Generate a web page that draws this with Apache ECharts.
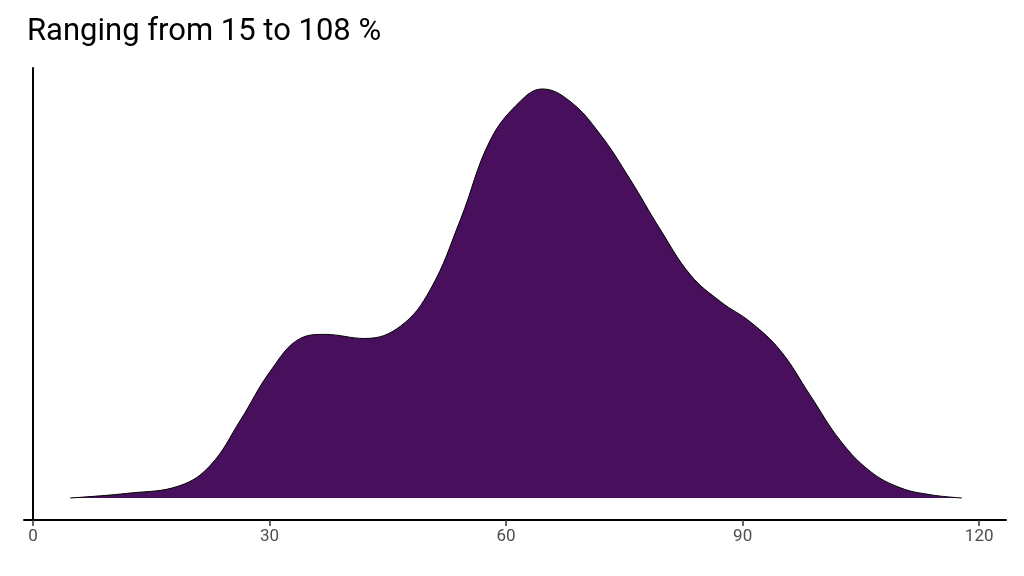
<!DOCTYPE html>
<html>
<head>
<meta charset="utf-8">
<script src="https://cdn.jsdelivr.net/npm/echarts@6/dist/echarts.min.js"></script>
<style>html,body{margin:0;padding:0;background:#fff}#chart{width:1024px;height:576px}</style>
</head>
<body>
<div id="chart"></div>
<script>
// density curve (x = percent, y = relative density)
var xValues = [4.7, 12.3, 18.6, 22.5, 26.3, 30.1, 33.9, 37, 42.1, 46.6, 50.4, 54.2, 58, 61.8, 64.6, 68.1, 71.9, 75.7, 79.6, 83.4, 87.2, 91, 94.8, 98.6, 102.4, 106.2, 110, 113.8, 117.8];
var yValues = [0, 0.012, 0.03, 0.08, 0.19, 0.31, 0.39, 0.40, 0.39, 0.42, 0.51, 0.68, 0.875, 0.97, 1.0, 0.97, 0.89, 0.78, 0.655, 0.545, 0.48, 0.43, 0.36, 0.25, 0.14, 0.065, 0.025, 0.008, 0];
var tickValues = [0, 30, 60, 90, 120];
var titleText = 'Ranging from 15 to 108 %';

var points = [];
for (var i = 0; i < xValues.length; i++) {
  points.push([xValues[i], yValues[i]]);
}

var chart = echarts.init(document.getElementById('chart'));
chart.setOption({
  animation: false,
  title: {
    text: titleText,
    left: 22,
    top: 12,
    textStyle: { fontFamily: 'Roboto', fontSize: 31, fontWeight: 'normal', color: '#000' }
  },
  grid: { left: 24, right: 18, top: 68, bottom: 56 },
  xAxis: {
    type: 'value',
    min: -1.14,
    max: 123.4,
    splitLine: { show: false },
    axisLine: { onZero: false, lineStyle: { color: '#000', width: 2 } },
    axisTick: { customValues: tickValues, length: 6, lineStyle: { color: '#333', width: 1.5 } },
    axisLabel: { customValues: tickValues, color: '#4d4d4d', fontSize: 17, fontFamily: 'Roboto', margin: 8 }
  },
  yAxis: {
    type: 'value',
    min: -0.0538,
    max: 1.0513,
    splitLine: { show: false },
    axisLine: { show: true, lineStyle: { color: '#000', width: 2 } },
    axisTick: { show: false },
    axisLabel: { show: false }
  },
  series: [{
    type: 'line',
    data: points,
    smooth: 0.4,
    symbol: 'none',
    lineStyle: { color: '#000', width: 1 },
    areaStyle: { color: '#480f5c', opacity: 1, origin: 0 }
  }]
});
</script>
</body>
</html>
